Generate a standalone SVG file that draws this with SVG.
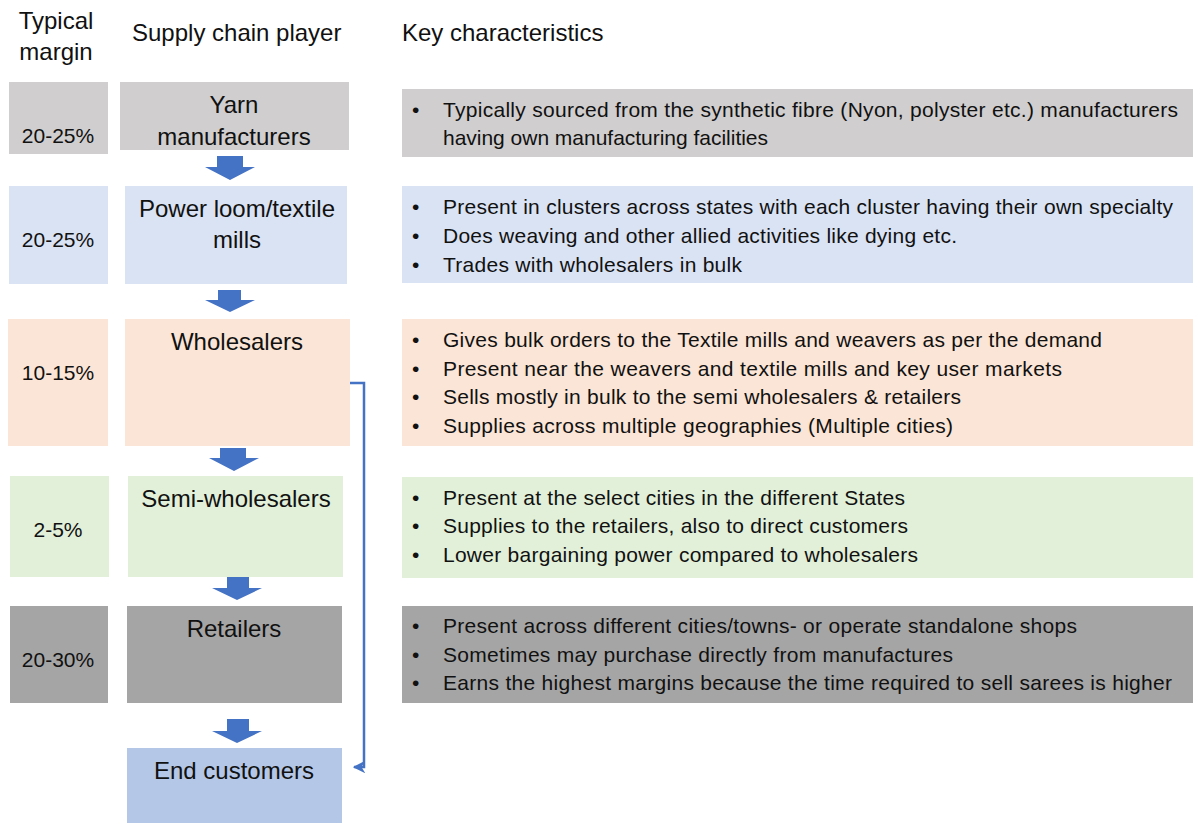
<svg xmlns="http://www.w3.org/2000/svg" width="1193" height="823" viewBox="0 0 1193 823">
<defs>
<style>
text{font-family:"Liberation Sans",Arial,sans-serif;fill:#111}
.hd{font-size:24px}
.nd{font-size:24px;text-anchor:middle}
.mg{font-size:21px;text-anchor:middle}
.ds{font-size:21px}
.gray{fill:#d0cece}.blue{fill:#dae3f3}.peach{fill:#fbe5d6}.green{fill:#e2f0d9}.dgray{fill:#a5a5a5}.eblue{fill:#b4c7e7}
.arr{fill:#4472c4}
.con{fill:none;stroke:#4472c4;stroke-width:2.5}
</style>
<marker id="ah" viewBox="0 0 10 10" refX="9" refY="5" markerWidth="5" markerHeight="5" orient="auto-start-reverse">
<path d="M0,0 L10,5 L0,10 L3,5 z" fill="#4472c4"/>
</marker>
</defs>
<rect width="1193" height="823" fill="#fff"/>
<g id="headers">
<text class="hd" x="56" y="29" text-anchor="middle">Typical</text>
<text class="hd" x="56" y="60" text-anchor="middle">margin</text>
<text class="hd" x="132" y="41">Supply chain player</text>
<text class="hd" x="402" y="41">Key characteristics</text>
</g>
<g id="margins">
<rect class="gray" x="9" y="82" width="99" height="72"/><text class="mg" x="58" y="143">20-25%</text>
<rect class="blue" x="9" y="186" width="99" height="98"/><text class="mg" x="58" y="247">20-25%</text>
<rect class="peach" x="8" y="319" width="100" height="127"/><text class="mg" x="58" y="380">10-15%</text>
<rect class="green" x="10" y="476" width="99" height="101"/><text class="mg" x="58" y="537">2-5%</text>
<rect class="dgray" x="10" y="606" width="98" height="97"/><text class="mg" x="58" y="667">20-30%</text>
</g>
<g id="n-yarn"><rect class="gray" x="120" y="82" width="229" height="68"/><text class="nd" x="234" y="113">Yarn</text><text class="nd" x="234" y="145">manufacturers</text></g>
<g id="n-loom"><rect class="blue" x="125" y="186" width="222" height="98"/><text class="nd" x="237" y="217">Power loom/textile</text><text class="nd" x="237" y="248">mills</text></g>
<g id="n-whole"><rect class="peach" x="125" y="319" width="225" height="127"/><text class="nd" x="237" y="350">Wholesalers</text></g>
<g id="n-semi"><rect class="green" x="128" y="476" width="215" height="101"/><text class="nd" x="236" y="507">Semi-wholesalers</text></g>
<g id="n-retail"><rect class="dgray" x="127" y="606" width="215" height="97"/><text class="nd" x="234" y="637">Retailers</text></g>
<g id="n-end"><rect class="eblue" x="127" y="748" width="215" height="75"/><text class="nd" x="234" y="779">End customers</text></g>
<g id="descriptions">
<rect class="gray" x="402" y="89" width="791" height="68"/>
<text class="ds" x="412" y="117">•</text><text class="ds" x="443" y="117" textLength="735" lengthAdjust="spacing">Typically sourced from the synthetic fibre (Nyon, polyster etc.) manufacturers</text>
<text class="ds" x="443" y="145" textLength="325" lengthAdjust="spacing">having own manufacturing facilities</text>
<rect class="blue" x="402" y="186" width="791" height="97"/>
<text class="ds" x="412" y="214">•</text><text class="ds" x="443" y="214" textLength="730" lengthAdjust="spacing">Present in clusters across states with each cluster having their own specialty</text>
<text class="ds" x="412" y="243">•</text><text class="ds" x="443" y="243" textLength="514" lengthAdjust="spacing">Does weaving and other allied activities like dying etc.</text>
<text class="ds" x="412" y="272">•</text><text class="ds" x="443" y="272" textLength="299" lengthAdjust="spacing">Trades with wholesalers in bulk</text>
<rect class="peach" x="402" y="319" width="791" height="127"/>
<text class="ds" x="412" y="347">•</text><text class="ds" x="443" y="347" textLength="659" lengthAdjust="spacing">Gives bulk orders to the Textile mills and weavers as per the demand</text>
<text class="ds" x="412" y="376">•</text><text class="ds" x="443" y="376" textLength="619" lengthAdjust="spacing">Present  near the weavers and textile mills and key user markets</text>
<text class="ds" x="412" y="404">•</text><text class="ds" x="443" y="404" textLength="518" lengthAdjust="spacing">Sells mostly in bulk to the semi wholesalers &amp; retailers</text>
<text class="ds" x="412" y="433">•</text><text class="ds" x="443" y="433" textLength="510" lengthAdjust="spacing">Supplies across multiple geographies (Multiple cities)</text>
<rect class="green" x="402" y="477" width="791" height="101"/>
<text class="ds" x="412" y="505">•</text><text class="ds" x="443" y="505" textLength="462" lengthAdjust="spacing">Present at the select cities in the different States</text>
<text class="ds" x="412" y="533">•</text><text class="ds" x="443" y="533" textLength="465" lengthAdjust="spacing">Supplies to the retailers, also to direct customers</text>
<text class="ds" x="412" y="562">•</text><text class="ds" x="443" y="562" textLength="475" lengthAdjust="spacing">Lower bargaining power compared to wholesalers</text>
<rect class="dgray" x="402" y="606" width="791" height="97"/>
<text class="ds" x="412" y="633">•</text><text class="ds" x="443" y="633" textLength="634" lengthAdjust="spacing">Present across different cities/towns- or operate standalone shops</text>
<text class="ds" x="412" y="662">•</text><text class="ds" x="443" y="662" textLength="510" lengthAdjust="spacing">Sometimes may purchase directly from manufactures</text>
<text class="ds" x="412" y="690">•</text><text class="ds" x="443" y="690" textLength="729" lengthAdjust="spacing">Earns the highest margins because the time required to sell sarees is higher</text>
</g>
<g id="connectors">
<path class="arr" d="M217,156 H243 V167 H255 L230,180 L205,167 H217 Z"/>
<path class="arr" d="M218,290 H241 V300 H255 L230,312 L205,300 H218 Z"/>
<path class="arr" d="M220,448 H246 V458 H259 L234,471 L209,458 H220 Z"/>
<path class="arr" d="M227,577 H249 V588 H262 L237,600 L212,588 H227 Z"/>
<path class="arr" d="M227,719 H249 V731 H262 L237,743 L212,731 H227 Z"/>
<path class="con" d="M350,383 H364 V767 H354" marker-end="url(#ah)"/>
</g>
</svg>
